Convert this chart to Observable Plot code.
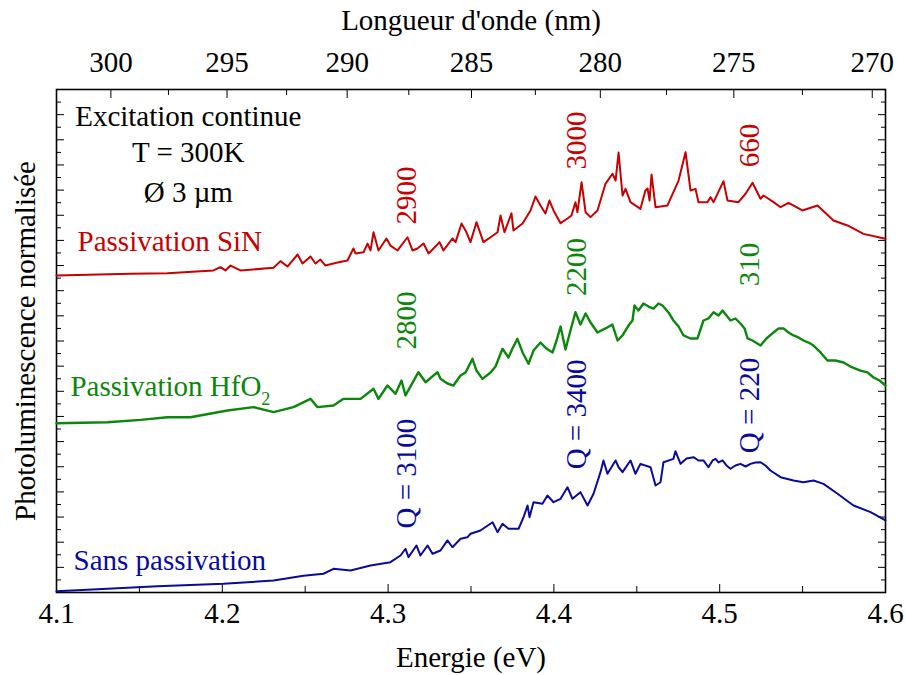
<!DOCTYPE html>
<html>
<head>
<meta charset="utf-8">
<script src="https://cdn.jsdelivr.net/npm/d3@7"></script>
<script src="https://cdn.jsdelivr.net/npm/@observablehq/plot@0.6"></script>
<style>
  html, body { margin: 0; padding: 0; background: white; }
</style>
</head>
<body>
<div id="chart"></div>
<script>
// Photoluminescence spectra: [energy (eV), normalised intensity (offset, a.u.)]
const sinSpectrum = [
  [4.1000,25.21],[4.1446,25.34],[4.1669,25.39],[4.1947,25.61],[4.1989,25.87],[4.2019,25.61],[4.2049,26.00],[4.2110,25.61],
  [4.2309,25.82],[4.2351,26.35],[4.2393,25.92],[4.2454,26.88],[4.2484,26.16],[4.2532,26.72],[4.2562,26.16],[4.2592,26.48],
  [4.2622,26.00],[4.2695,26.24],[4.2755,26.40],[4.2791,27.36],[4.2803,26.96],[4.2852,27.06],[4.2876,27.75],[4.2894,27.20],
  [4.2912,28.65],[4.2942,27.20],[4.2990,28.15],[4.3014,27.59],[4.3057,27.20],[4.3117,28.25],[4.3147,27.20],[4.3177,27.36],
  [4.3214,27.75],[4.3244,26.96],[4.3274,27.36],[4.3310,27.86],[4.3334,27.20],[4.3388,28.15],[4.3407,27.86],[4.3443,29.34],
  [4.3467,28.79],[4.3497,27.86],[4.3533,29.45],[4.3575,27.86],[4.3618,28.25],[4.3660,28.65],[4.3678,29.98],[4.3702,28.65],
  [4.3744,30.16],[4.3756,28.79],[4.3811,29.34],[4.3859,30.38],[4.3889,31.49],[4.3919,30.78],[4.3949,30.14],[4.3973,31.17],
  [4.3998,30.38],[4.4040,29.37],[4.4082,29.74],[4.4106,29.98],[4.4130,31.04],[4.4142,30.24],[4.4167,32.63],[4.4191,30.24],
  [4.4221,29.85],[4.4263,30.38],[4.4311,32.50],[4.4353,33.30],[4.4372,32.76],[4.4390,34.99],[4.4414,31.57],[4.4432,32.10],
  [4.4462,31.04],[4.4522,30.51],[4.4552,31.97],[4.4565,32.13],[4.4577,31.17],[4.4589,33.24],[4.4613,30.64],[4.4685,30.78],
  [4.4752,32.76],[4.4794,35.01],[4.4824,31.97],[4.4854,32.10],[4.4872,31.04],[4.4926,31.04],[4.4945,31.44],[4.4963,31.04],
  [4.5023,32.71],[4.5047,31.17],[4.5113,31.04],[4.5156,31.71],[4.5198,32.58],[4.5246,31.31],[4.5264,31.57],[4.5325,31.04],
  [4.5367,30.64],[4.5415,30.99],[4.5499,30.38],[4.5590,30.78],[4.5686,29.58],[4.5771,29.19],[4.5867,28.52],[4.6000,28.13]
];
const hfo2Spectrum = [
  [4.1000,13.46],[4.1308,13.54],[4.1507,13.73],[4.1669,13.94],[4.1808,13.94],[4.2031,14.47],[4.2188,14.74],[4.2309,14.34],
  [4.2429,14.74],[4.2532,15.40],[4.2574,14.74],[4.2671,14.87],[4.2731,15.40],[4.2834,15.40],[4.2912,16.20],[4.2942,15.40],
  [4.2996,16.46],[4.3045,15.80],[4.3081,16.86],[4.3105,15.67],[4.3183,17.52],[4.3226,16.72],[4.3298,17.52],[4.3316,16.99],
  [4.3358,16.62],[4.3394,16.46],[4.3437,17.26],[4.3467,17.50],[4.3509,18.58],[4.3533,17.65],[4.3569,16.99],[4.3618,17.50],
  [4.3648,17.97],[4.3690,19.38],[4.3726,18.69],[4.3750,19.40],[4.3780,20.17],[4.3811,19.09],[4.3847,18.19],[4.3877,19.24],
  [4.3919,19.88],[4.3955,19.40],[4.3992,19.09],[4.4016,20.04],[4.4040,21.15],[4.4070,19.32],[4.4100,20.83],[4.4130,22.29],
  [4.4160,21.31],[4.4191,22.19],[4.4221,21.47],[4.4263,20.68],[4.4311,21.00],[4.4353,21.31],[4.4384,20.04],[4.4414,20.44],
  [4.4450,21.23],[4.4474,21.63],[4.4486,22.82],[4.4510,22.43],[4.4540,22.98],[4.4571,22.74],[4.4601,22.58],[4.4631,22.98],
  [4.4655,22.82],[4.4691,22.27],[4.4721,21.63],[4.4752,21.15],[4.4782,20.44],[4.4824,20.20],[4.4866,20.20],[4.4902,21.63],
  [4.4932,21.79],[4.4963,22.29],[4.4993,22.03],[4.5017,22.43],[4.5041,22.03],[4.5065,21.63],[4.5095,21.79],[4.5125,21.39],
  [4.5150,21.00],[4.5168,20.20],[4.5198,20.04],[4.5246,19.64],[4.5282,20.20],[4.5325,20.68],[4.5355,21.00],[4.5385,21.00],
  [4.5415,20.68],[4.5445,20.44],[4.5475,20.28],[4.5505,20.04],[4.5536,19.88],[4.5566,19.64],[4.5608,19.09],[4.5650,18.45],
  [4.5698,18.45],[4.5747,18.29],[4.5789,17.97],[4.5849,17.65],[4.5891,17.50],[4.5928,17.10],[4.5964,16.86],[4.6000,16.46]
];
const barSpectrum = [
  [4.1000,0.10],[4.1308,0.29],[4.1609,0.50],[4.2007,0.69],[4.2309,0.95],[4.2490,1.33],[4.2610,1.49],[4.2671,1.88],
  [4.2773,1.75],[4.2894,2.15],[4.3014,2.41],[4.3075,2.94],[4.3105,3.48],[4.3123,2.81],[4.3171,3.74],[4.3195,2.94],
  [4.3238,3.74],[4.3268,3.08],[4.3316,3.34],[4.3358,4.14],[4.3388,3.60],[4.3437,4.27],[4.3479,4.40],[4.3497,4.67],
  [4.3557,4.93],[4.3630,5.59],[4.3660,4.80],[4.3690,5.46],[4.3726,5.07],[4.3787,5.07],[4.3817,5.99],[4.3841,6.92],
  [4.3853,5.99],[4.3877,7.18],[4.3931,7.05],[4.3961,7.71],[4.3998,7.18],[4.4040,7.45],[4.4082,8.37],[4.4112,7.45],
  [4.4160,7.98],[4.4203,6.92],[4.4239,7.85],[4.4281,9.57],[4.4299,10.50],[4.4323,9.44],[4.4372,10.50],[4.4390,9.96],
  [4.4414,9.57],[4.4462,10.50],[4.4492,9.44],[4.4522,10.23],[4.4583,9.96],[4.4613,8.51],[4.4643,8.77],[4.4661,10.36],
  [4.4721,10.63],[4.4733,11.24],[4.4764,10.23],[4.4800,10.66],[4.4842,10.76],[4.4872,10.50],[4.4902,10.50],[4.4932,9.96],
  [4.4957,10.50],[4.4975,10.63],[4.4993,10.34],[4.5017,10.50],[4.5041,10.10],[4.5065,9.84],[4.5095,10.10],[4.5125,10.23],
  [4.5156,10.02],[4.5186,10.23],[4.5216,10.34],[4.5246,10.36],[4.5276,10.10],[4.5306,9.70],[4.5367,9.17],[4.5445,8.91],
  [4.5505,8.77],[4.5566,8.91],[4.5626,8.64],[4.5711,7.85],[4.5807,6.92],[4.5910,6.39],[4.6000,5.73]
];

// Tick values
const energyTicks = [4.1, 4.2, 4.3, 4.4, 4.5, 4.6];
const energyMinor = [4.15, 4.25, 4.35, 4.45, 4.55];
const wavelengthTicks = [300, 295, 290, 285, 280, 275, 270];
const wavelengthMinor = [297.5, 292.5, 287.5, 282.5, 277.5, 272.5];
const yMajor = d3.range(0, 41, 2);
const yMinor = d3.range(1, 40, 2);

// Quality factors (labels)
const sinQ = ["2900", "3000", "660"];
const hfo2Q = ["2800", "2200", "310"];
const barQ = ["Q = 3100", "Q = 3400", "Q = 220"];
const modeEnergies = [4.3111, 4.4136, 4.518];

const HC = 1239.84; // eV·nm
const RED = "#c80000", GREEN = "#0b870b", BLUE = "#0a0a9c";
const FONT = "Liberation Serif";
const none = () => "";

const plot = Plot.plot({
  width: 906,
  height: 675,
  marginTop: 89,
  marginRight: 21,
  marginBottom: 83,
  marginLeft: 56,
  style: {fontFamily: "'Liberation Serif', serif", fontSize: "29px", background: "white", color: "black", overflow: "visible"},
  x: {domain: [4.1, 4.6]},
  y: {domain: [0, 40]},
  marks: [
    // bottom energy axis
    Plot.axisX({anchor: "bottom", ticks: energyTicks, tickSize: -8, tickPadding: 18, tickFormat: d => d.toFixed(1), label: null, fontFamily: FONT}),
    Plot.axisX({anchor: "bottom", ticks: energyMinor, tickSize: -6, tickFormat: none, label: null}),
    // top wavelength axis
    Plot.axisX({anchor: "top", ticks: wavelengthTicks.map(l => HC / l), tickSize: -8, tickPadding: 26, tickFormat: d => String(Math.round(HC / d)), label: null, fontFamily: FONT}),
    Plot.axisX({anchor: "top", ticks: wavelengthMinor.map(l => HC / l), tickSize: -5, tickFormat: none, label: null}),
    // left / right ticks
    Plot.axisY({anchor: "left", ticks: yMajor, tickSize: -8, tickFormat: none, label: null}),
    Plot.axisY({anchor: "left", ticks: yMinor, tickSize: -5, tickFormat: none, label: null}),
    Plot.axisY({anchor: "right", ticks: yMajor, tickSize: -8, tickFormat: none, label: null}),
    Plot.axisY({anchor: "right", ticks: yMinor, tickSize: -5, tickFormat: none, label: null}),
    Plot.frame({stroke: "black", strokeWidth: 1.6}),
    // axis titles
    Plot.text(["Longueur d'onde (nm)"], {text: d => d, frameAnchor: "top", dy: -69, lineAnchor: "middle", fontFamily: FONT}),
    Plot.text(["Energie (eV)"], {text: d => d, frameAnchor: "bottom", dy: 65, lineAnchor: "middle", fontFamily: FONT}),
    Plot.text(["Photoluminescence normalisée"], {text: d => d, frameAnchor: "left", dx: -31, rotate: -90, textAnchor: "middle", lineAnchor: "middle", fontFamily: FONT}),
    // spectra
    Plot.line(sinSpectrum, {x: d => d[0], y: d => d[1], stroke: RED, strokeWidth: 2}),
    Plot.line(hfo2Spectrum, {x: d => d[0], y: d => d[1], stroke: GREEN, strokeWidth: 2.4}),
    Plot.line(barSpectrum, {x: d => d[0], y: d => d[1], stroke: BLUE, strokeWidth: 2}),
    // info block
    Plot.text(["Excitation continue", "T = 300K", "Ø 3 µm"], {
      text: d => d, x: 4.1795, y: (d, i) => [37.85, 34.95, 31.81][i], textAnchor: "middle", lineAnchor: "middle", fill: "black", fontFamily: FONT
    }),
    // series names
    Plot.text(["Passivation SiN"], {text: d => d, x: 4.1127, y: 27.91, textAnchor: "start", fill: RED, fontFamily: FONT}),
    Plot.text(["Passivation HfO"], {text: d => d, x: 4.1084, y: 16.36, textAnchor: "start", fill: GREEN, fontFamily: FONT}),
    Plot.text(["Sans passivation"], {text: d => d, x: 4.1103, y: 2.54, textAnchor: "start", fill: BLUE, fontFamily: FONT}),
    // Q labels
    Plot.text(sinQ, {text: d => d, x: (d, i) => modeEnergies[i], y: (d, i) => [31.57, 35.94, 35.55][i], rotate: -90, fill: RED, fontFamily: FONT}),
    Plot.text(hfo2Q, {text: d => d, x: (d, i) => modeEnergies[i], y: (d, i) => [21.63, 25.89, 26.08][i], rotate: -90, fill: GREEN, fontFamily: FONT}),
    Plot.text(barQ, {text: d => d, x: (d, i) => modeEnergies[i], y: (d, i) => [9.46, 14.16, 14.87][i], rotate: -90, fill: BLUE, fontFamily: FONT})
  ]
});

// subscript for HfO2
plot.querySelectorAll("text").forEach(t => {
  if (t.textContent === "Passivation HfO") {
    const ts = document.createElementNS("http://www.w3.org/2000/svg", "tspan");
    ts.textContent = "2";
    ts.setAttribute("font-size", "18");
    ts.setAttribute("dy", "9");
    t.appendChild(ts);
  }
});

document.getElementById("chart").appendChild(plot);
</script>
</body>
</html>
